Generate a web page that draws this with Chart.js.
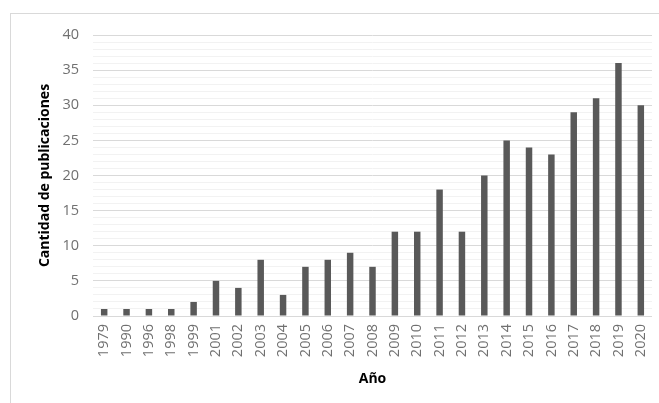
<!DOCTYPE html>
<html>
<head>
<meta charset="utf-8">
<script src="https://cdn.jsdelivr.net/npm/chart.js@4/dist/chart.umd.min.js"></script>
<style>
  html, body { margin: 0; padding: 0; background: #fff; }
  #wrap { position: relative; width: 659px; height: 403px; }
  #frame { position: absolute; left: 10px; top: 13px; width: 660px; height: 400px;
           border-top: 1px solid #d9d9d9; border-left: 1px solid #d9d9d9; }
  canvas { position: absolute; left: 0; top: 0; }
</style>
</head>
<body>
<div id="wrap">
  <div id="frame"></div>
  <canvas id="chart" width="659" height="403"></canvas>
</div>
<script>
// Publications per year
const years = ['1979','1990','1996','1998','1999','2001','2002','2003','2004','2005','2006','2007','2008',
               '2009','2010','2011','2012','2013','2014','2015','2016','2017','2018','2019','2020'];
const publications = [1,1,1,1,2,5,4,8,3,7,8,9,7,12,12,18,12,20,25,24,23,29,31,36,30];
const yMax = 40;
const labeledStep = 5;

const tickFont = { family: "'Open Sans', 'Liberation Sans', sans-serif", size: 14.5 };
const titleFont = { family: "'Open Sans', 'Liberation Sans', sans-serif", size: 14, weight: 'bold' };

new Chart(document.getElementById('chart'), {
  type: 'bar',
  data: {
    labels: years,
    datasets: [{
      data: publications,
      backgroundColor: '#595959',
      barPercentage: 0.29,
      categoryPercentage: 1.0
    }]
  },
  options: {
    responsive: false,
    animation: false,
    layout: { padding: { left: 37, right: 7, top: 35, bottom: 16 } },
    plugins: { legend: { display: false }, tooltip: { enabled: false } },
    scales: {
      x: {
        grid: { display: false, drawTicks: false },
        border: { display: false },
        ticks: { color: '#707070', font: tickFont, minRotation: 90, maxRotation: 90, padding: 8, autoSkip: false },
        title: { display: true, text: 'Año', color: '#000', font: titleFont, padding: { top: 2, bottom: 0 } },
        afterFit: (s) => { s.height = 71; s.paddingLeft = 0; s.paddingRight = 0; }
      },
      y: {
        min: 0,
        max: yMax,
        ticks: {
          stepSize: 1,
          autoSkip: false,
          color: '#707070',
          font: tickFont,
          padding: 14,
          callback: (v) => (v % labeledStep === 0 ? v : '')
        },
        grid: {
          drawTicks: false,
          color: (ctx) => (ctx.tick && ctx.tick.value % labeledStep === 0 ? '#d9d9d9' : '#f2f2f2'),
          lineWidth: 1
        },
        border: { display: false },
        title: { display: true, text: 'Cantidad de publicaciones', color: '#000', font: titleFont, padding: { top: 0, bottom: 0 } },
        afterFit: (s) => { s.width = 56; }
      }
    }
  }
});
</script>
</body>
</html>
